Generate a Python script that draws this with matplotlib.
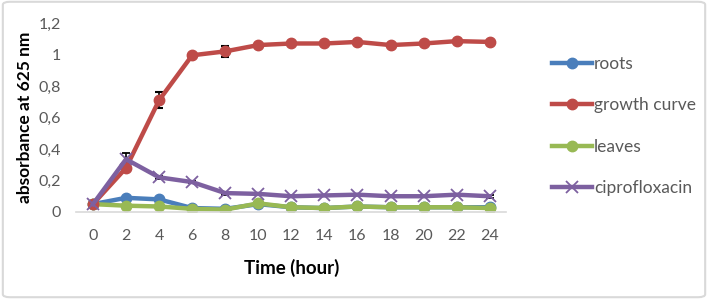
import matplotlib.pyplot as plt
from matplotlib.lines import Line2D
from matplotlib.patches import FancyBboxPatch

plt.rcParams['font.family'] = ['Lato', 'DejaVu Sans']

hours = [0, 2, 4, 6, 8, 10, 12, 14, 16, 18, 20, 22, 24]
roots = [0.05, 0.09, 0.08, 0.025, 0.02, 0.05, 0.03, 0.025, 0.035, 0.03, 0.03, 0.03, 0.03]
growth = [0.05, 0.28, 0.71, 0.995, 1.02, 1.06, 1.07, 1.07, 1.08, 1.06, 1.07, 1.085, 1.08]
growth_err = [0.005, 0.01, 0.05, 0.005, 0.035, 0.01, 0.01, 0.01, 0.012, 0.01, 0.01, 0.012, 0.01]
leaves = [0.05, 0.04, 0.035, 0.02, 0.015, 0.055, 0.03, 0.025, 0.035, 0.03, 0.03, 0.03, 0.025]
cipro = [0.05, 0.335, 0.22, 0.19, 0.12, 0.115, 0.10, 0.105, 0.11, 0.10, 0.10, 0.11, 0.10]
cipro_err = [0.005, 0.04, 0.01, 0.005, 0.01, 0.005, 0.005, 0.005, 0.005, 0.005, 0.005, 0.005, 0.008]

fig = plt.figure(figsize=(7.08, 2.99), dpi=100)
fig.patches.append(FancyBboxPatch((0.004, 0.006), 0.992, 0.988, boxstyle='round,pad=0,rounding_size=0.01',
                                  transform=fig.transFigure, fc='none', ec='#d9d9d9', lw=1.5, zorder=10))
ax = fig.add_axes([0.108, 0.291, 0.607, 0.632])

lw = 3.2
colors = {'roots': '#4a7ebb', 'growth curve': '#be4b48', 'leaves': '#98b954', 'ciprofloxacin': '#7d60a0'}
ax.plot(hours, roots, color=colors['roots'], lw=lw, marker='o', ms=7.5)
ax.errorbar(hours, growth, yerr=growth_err, color=colors['growth curve'], lw=lw, marker='o', ms=7.5,
            ecolor='black', elinewidth=1.2, capsize=3, capthick=1.5)
ax.plot(hours, leaves, color=colors['leaves'], lw=lw, marker='o', ms=7.5)
ax.errorbar(hours, cipro, yerr=cipro_err, color=colors['ciprofloxacin'], lw=lw, marker='x', ms=9, mew=1.3,
            ecolor='black', elinewidth=1.2, capsize=3, capthick=1.5)

ax.set_xlim(-1, 25)
ax.set_ylim(0, 1.2)
ax.set_xticks(hours)
ax.set_yticks([0, 0.2, 0.4, 0.6, 0.8, 1.0, 1.2])
ax.set_yticklabels(['0', '0,2', '0,4', '0,6', '0,8', '1', '1,2'])
for s in ['top', 'right', 'left']:
    ax.spines[s].set_visible(False)
ax.spines['bottom'].set_color('#d9d9d9')
ax.spines['bottom'].set_linewidth(1.2)
ax.tick_params(length=0, labelsize=11.5, colors='#595959')
ax.tick_params(axis='x', pad=12)
ax.tick_params(axis='y', pad=11)
ax.set_xlabel('Time (hour)', fontsize=13.5, fontweight='bold', labelpad=12)
ax.set_ylabel('absorbance at 625 nm', fontsize=12.5, fontweight='bold', labelpad=4)

handles = [
    Line2D([], [], color=colors['roots'], lw=lw, marker='o', ms=7.5),
    Line2D([], [], color=colors['growth curve'], lw=lw, marker='o', ms=7.5),
    Line2D([], [], color=colors['leaves'], lw=lw, marker='o', ms=7.5),
    Line2D([], [], color=colors['ciprofloxacin'], lw=lw, marker='x', ms=9, mew=1.3),
]
leg = fig.legend(handles, list(colors), loc='upper left', bbox_to_anchor=(0.77, 0.835),
                 bbox_transform=fig.transFigure, frameon=False, fontsize=12.5, labelspacing=1.45,
                 handlelength=2.3, handletextpad=0.1, borderaxespad=0)
for t in leg.get_texts():
    t.set_color('#595959')

fig.savefig('out.png', dpi=100)
